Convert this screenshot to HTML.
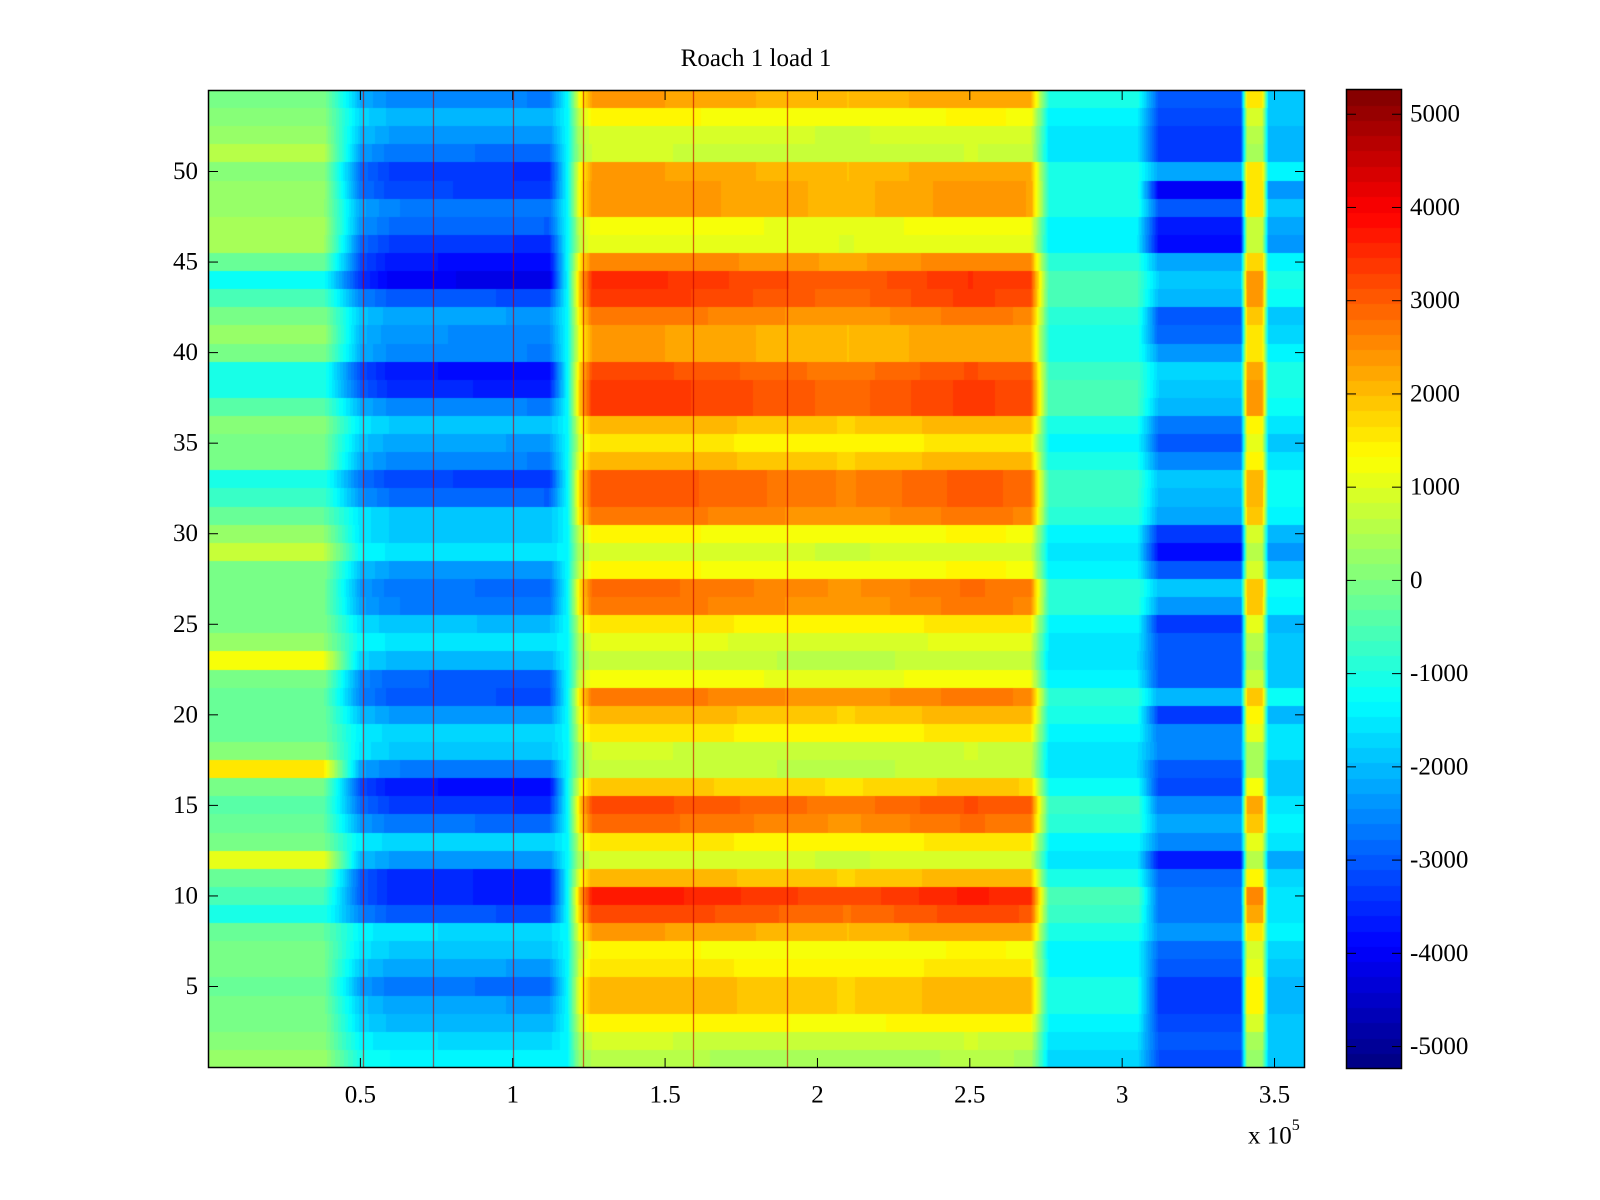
<!DOCTYPE html>
<html><head><meta charset="utf-8">
<style>
html,body{margin:0;padding:0;background:#fff;}
#wrap{position:relative;width:1600px;height:1200px;overflow:hidden;font-family:"Liberation Serif",serif;color:#000;}
.t{position:absolute;font-size:25px;white-space:nowrap;line-height:1;}
canvas{position:absolute;}
</style></head>
<body>
<div id="wrap">
<div class="t" style="left:756px;top:46px;transform:translateX(-50%);">Roach 1 load 1</div>
<canvas id="hm" width="1097" height="978" style="left:208px;top:90px;"></canvas>
<canvas id="cb" width="56" height="979" style="left:1346px;top:89px;"></canvas>
<svg id="ov" width="1600" height="1200" style="position:absolute;left:0;top:0;"></svg>
<div class="t" style="left:1248px;top:1122px;">x 10<sup style="font-size:16px;position:relative;top:-4px;">5</sup></div>
</div>
<script>
// per-row values (row 1..54)
const leftVals=[300,100,0,-100,-200,-100,-100,-300,-1000,-600,-200,1100,-100,-300,-400,-100,1500,100,-200,-200,-300,0,1200,200,0,-100,-100,0,700,200,-300,-700,-1000,-100,-100,100,-400,-1000,-1000,0,300,0,-600,-1200,-200,400,400,200,300,100,600,300,100,0];
const blueVals=[-1300,-1600,-2000,-2200,-2700,-2200,-1800,-1600,-3000,-3500,-3500,-2300,-1700,-2700,-3300,-3700,-2600,-1800,-1700,-2300,-3000,-2900,-2000,-1500,-1900,-2600,-2700,-2300,-1500,-1800,-1800,-2800,-3200,-2500,-2200,-1800,-2500,-3500,-3700,-2500,-2400,-2200,-3000,-4000,-3700,-3300,-2800,-2600,-3200,-3300,-2700,-2300,-2000,-2500];
const midVals=[500,800,1400,2000,2000,1500,1300,2200,3100,3500,2000,900,1500,2700,3000,1800,700,800,1500,2000,2600,1200,700,1000,1500,2600,2700,1300,900,1300,2600,2900,2900,2000,1500,2000,3200,3200,3000,2200,2200,2600,3200,3300,2500,1100,1200,2300,2300,2200,800,900,1300,2200];
const rightVals=[-3100,-3000,-3200,-3300,-3300,-3000,-2800,-2400,-2700,-2700,-2800,-3700,-2500,-2200,-2600,-3200,-3000,-2500,-2600,-3300,-2100,-3000,-3000,-3000,-3400,-2300,-1900,-3000,-3800,-3400,-2200,-2000,-1900,-2500,-3000,-2700,-2000,-1800,-1700,-2300,-2900,-3000,-2000,-1800,-2200,-3800,-3700,-3000,-4000,-2200,-3300,-3300,-3200,-3000];
// time profile anchors (x in units of 1e5) : field and gain
const anchorX=[0,0.38,0.50,0.60,1.12,1.18,1.22,1.26,1.50,2.10,2.50,2.70,2.76,3.05,3.12,3.39,3.41,3.46,3.48,3.60];
const anchorField=["L","L","B","B","B","C","M","M","M","M","M","M","T","T","R","R","S","S","R","R"];
const anchorGain=[1,1,0.85,1,1.05,1,0.6,1.05,1.05,0.9,1.05,1,1,1,1,1,1,1,0.6,0.6];
const spikeX=[0.51,0.74,1.0,1.23,1.59,1.9];
const xTicks=[0.5,1,1.5,2,2.5,3,3.5];
const yTicks=[5,10,15,20,25,30,35,40,45,50];
const cTicks=[-5000,-4000,-3000,-2000,-1000,0,1000,2000,3000,4000,5000];

const X0=208,X1=1305,Y0=90,Y1=1068,XMIN=0.0,XMAX=3.6,YMIN=0.5,YMAX=54.5,CMIN=-5230,CMAX=5260;
const xs=v=>X0+(v-XMIN)/(XMAX-XMIN)*(X1-X0);
const ys=v=>Y1-(v-YMIN)/(YMAX-YMIN)*(Y1-Y0);
const cs=v=>Y1-(v-CMIN)/(CMAX-CMIN)*(Y1-Y0);
function jet(t){t=Math.max(0,Math.min(1,t));
 const r=Math.max(0,Math.min(1,Math.min(4*t-1.5,-4*t+4.5)));
 const g=Math.max(0,Math.min(1,Math.min(4*t-0.5,-4*t+3.5)));
 const b=Math.max(0,Math.min(1,Math.min(4*t+0.5,-4*t+2.5)));
 return [r*255,g*255,b*255];}
function q(v){const t=(v-CMIN)/(CMAX-CMIN);return jet((Math.floor(t*64)+0.5)/64);}
function field(f,r){
 const m=midVals[r];
 if(f==="L")return leftVals[r];
 if(f==="B")return blueVals[r];
 if(f==="C")return -1300;
 if(f==="M")return m;
 if(f==="T")return -1500+0.4*(m-1000);
 if(f==="R")return rightVals[r];
 if(f==="S")return m*0.8-200;
 return 0;}
function valueAt(x,r){
 let i=0;while(i<anchorX.length-2&&x>anchorX[i+1])i++;
 const a=anchorX[i],b=anchorX[i+1];const u=Math.max(0,Math.min(1,(x-a)/(b-a)));
 const va=field(anchorField[i],r)*anchorGain[i],vb=field(anchorField[i+1],r)*anchorGain[i+1];
 return va+(vb-va)*u;}
// heatmap
const hm=document.getElementById('hm'),ctx=hm.getContext('2d');
const W=hm.width,H=hm.height,img=ctx.createImageData(W,H);
const nR=midVals.length;
for(let r=0;r<nR;r++){
 const yt=Math.round(ys(r+1.5)-Y0),yb=Math.round(ys(r+0.5)-Y0);
 for(let px=0;px<W;px++){
  const x=XMIN+(px+0.5)/W*(XMAX-XMIN);
  const c=q(valueAt(x,r));
  for(let y=Math.max(0,yt);y<Math.min(H,yb);y++){const k=(y*W+px)*4;img.data[k]=c[0];img.data[k+1]=c[1];img.data[k+2]=c[2];img.data[k+3]=255;}
 }}
ctx.putImageData(img,0,0);
ctx.fillStyle='rgba(190,0,0,0.8)';
spikeX.forEach(s=>{ctx.fillRect(Math.round(xs(s)-X0),0,1,H);});
// colorbar
const cb=document.getElementById('cb'),cc=cb.getContext('2d');
for(let i=0;i<64;i++){const c=jet((i+0.5)/64);cc.fillStyle=`rgb(${c[0]|0},${c[1]|0},${c[2]|0})`;
 const yb=979-i*979/64,yt=979-(i+1)*979/64;cc.fillRect(0,Math.floor(yt),56,Math.ceil(yb-yt)+1);}
// overlay
const ov=document.getElementById('ov');const NS='http://www.w3.org/2000/svg';
function mk(tag,at){const e=document.createElementNS(NS,tag);for(const k in at)e.setAttribute(k,at[k]);ov.appendChild(e);return e;}
let e=mk('rect',{x:X0+0.5,y:Y0+0.5,width:X1-X0-1,height:Y1-Y0-1,fill:'none',stroke:'#000','stroke-width':1.5});


e=mk('rect',{x:1346.5,y:89.5,width:55,height:979,fill:'none',stroke:'#000','stroke-width':1.5});


function label(txt,x,y,anchor,name){const t=mk('text',{x:x,y:y,'text-anchor':anchor,'font-family':'Liberation Serif, serif','font-size':25,'dominant-baseline':'central'});t.textContent=txt;
 
 }
xTicks.forEach(v=>{const x=xs(v);mk('line',{x1:x,x2:x,y1:Y1,y2:Y1-10,stroke:'#000'});mk('line',{x1:x,x2:x,y1:Y0,y2:Y0+10,stroke:'#000'});
 label(String(v),x,1095,'middle','x-tick-label');});
yTicks.forEach(v=>{const y=ys(v);mk('line',{x1:X0,x2:X0+10,y1:y,y2:y,stroke:'#000'});mk('line',{x1:X1,x2:X1-10,y1:y,y2:y,stroke:'#000'});
 label(String(v),X0-10,y,'end','y-tick-label');});
cTicks.forEach(v=>{const y=cs(v);mk('line',{x1:1346,x2:1356,y1:y,y2:y,stroke:'#000'});mk('line',{x1:1402,x2:1392,y1:y,y2:y,stroke:'#000'});
 label(String(v),1410,y,'start','colorbar-tick-label');});
</script>
</body></html>
